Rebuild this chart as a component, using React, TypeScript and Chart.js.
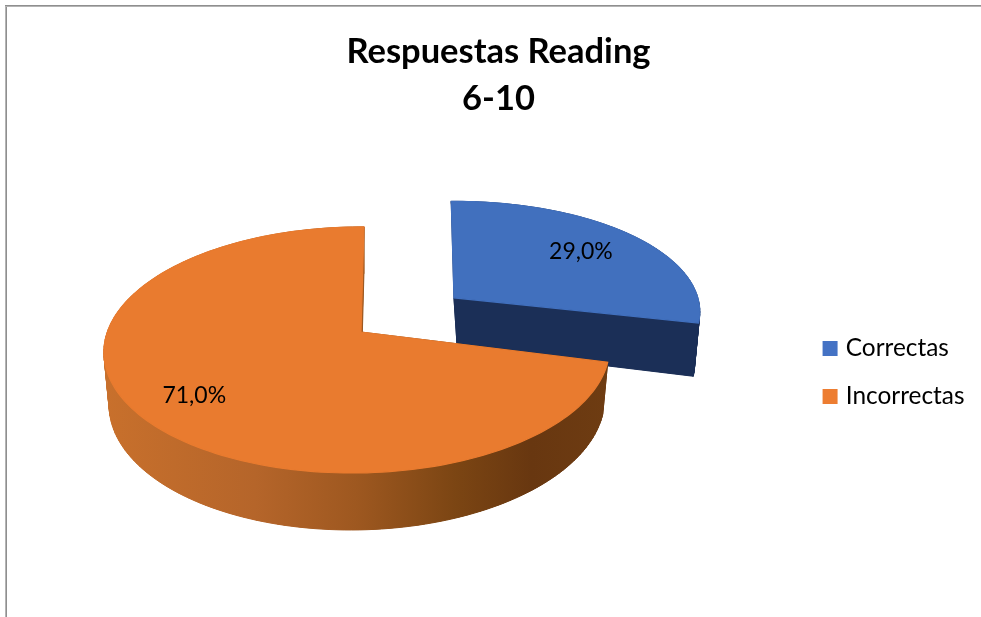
import React, { useEffect, useRef } from "react";
import { Chart, registerables } from "chart.js";

Chart.register(...registerables);

const categories = ["Correctas", "Incorrectas"];
const values = [29.0, 71.0];
const topColors = ["#4170BE", "#E97B2F"];
const legendColors = ["#4472C4", "#ED7D31"];
const explosion = [0.483, 0];
const titleLines = ["Respuestas Reading", "6-10"];

// perspective projection of the pie's plane onto the page
const VIEW = { ox: 361, oy: 332, a: 250, b: -3.4, c: -0.4, d: 120.4, k: -0.146, m: 0.015, depth: 52.6, g: 0.02 };

function project(x: number, y: number, bottom: boolean) {
  const v = VIEW;
  const w = 1 + v.k * y + v.m * x + (bottom ? v.g : 0);
  return {
    x: v.ox + (v.a * x + v.b * y) / w,
    y: v.oy + (v.c * x + v.d * y + (bottom ? v.depth : 0)) / w,
  };
}

// the exploded slice sits a little differently in the reference's perspective
function projectSlice(i: number, x: number, y: number, bottom: boolean) {
  const p = project(x, y, bottom);
  if (i !== 0) return p;
  const base = project(x, y, false);
  const dx = base.x - 452;
  const dy = 298 - base.y;
  return {
    x: p.x + 1 + 0.04 * dx + 0.062 * dy + (bottom ? 5 - (4 * dx) / 239 : 0),
    y: p.y + (bottom ? 0 : -0.012 * dx),
  };
}

function sectorPoints(i: number, start: number, end: number, ex: number, ey: number, bottom: boolean) {
  const pts = [projectSlice(i, ex, ey, bottom)];
  const n = Math.max(8, Math.round(((end - start) / (Math.PI * 2)) * 240));
  for (let s = 0; s <= n; s++) {
    const t = start + ((end - start) * s) / n;
    pts.push(projectSlice(i, ex + Math.cos(t), ey + Math.sin(t), bottom));
  }
  return pts;
}

function tracePoly(ctx: CanvasRenderingContext2D, pts: { x: number; y: number }[]) {
  ctx.beginPath();
  pts.forEach((p, i) => (i ? ctx.lineTo(p.x, p.y) : ctx.moveTo(p.x, p.y)));
  ctx.closePath();
}

const pie3d = {
  id: "pie3d",
  beforeDraw(chart: any) {
    const ctx = chart.ctx;
    ctx.save();
    ctx.fillStyle = "#ffffff";
    ctx.fillRect(0, 0, chart.width, chart.height);
    ctx.fillStyle = "#8F8F8F";
    ctx.fillRect(5, 5, chart.width - 5, 1);
    ctx.fillRect(6, 5, 1, chart.height - 5);
    ctx.fillStyle = "#B4B4B4";
    ctx.fillRect(6, 6, chart.width - 6, 1);
    ctx.fillRect(5, 6, 1, chart.height - 6);
    ctx.restore();
  },
  beforeDatasetsDraw(chart: any) {
    const ctx = chart.ctx;
    const arcs = chart.getDatasetMeta(0).data;
    const orangeSide = ctx.createLinearGradient(105, 0, 607, 0);
    orangeSide.addColorStop(0, "#C8702C");
    orangeSide.addColorStop(0.3, "#B5652A");
    orangeSide.addColorStop(0.5, "#9E5820");
    orangeSide.addColorStop(0.7, "#7B4513");
    orangeSide.addColorStop(0.85, "#683710");
    orangeSide.addColorStop(1, "#6E3C12");
    const sideFills = ["#1B2F57", orangeSide];
    ctx.save();
    arcs.forEach((arc: any, i: number) => {
      const mid = (arc.startAngle + arc.endAngle) / 2;
      const ex = explosion[i] * Math.cos(mid);
      const ey = explosion[i] * Math.sin(mid);
      const top = sectorPoints(i, arc.startAngle, arc.endAngle, ex, ey, false);
      const bottom = sectorPoints(i, arc.startAngle, arc.endAngle, ex, ey, true);
      ctx.fillStyle = sideFills[i];
      ctx.strokeStyle = sideFills[i];
      ctx.lineWidth = 1;
      tracePoly(ctx, bottom);
      ctx.fill();
      for (let j = 0; j < top.length; j++) {
        const k = (j + 1) % top.length;
        tracePoly(ctx, [top[j], top[k], bottom[k], bottom[j]]);
        ctx.fill();
        ctx.stroke();
      }
      ctx.fillStyle = topColors[i];
      ctx.strokeStyle = topColors[i];
      ctx.lineWidth = 1.2;
      tracePoly(ctx, top);
      ctx.fill();
      ctx.stroke();
    });
    ctx.fillStyle = "#000000";
    ctx.font = "23px Lato";
    ctx.textAlign = "center";
    ctx.textBaseline = "middle";
    arcs.forEach((arc: any, i: number) => {
      const mid = (arc.startAngle + arc.endAngle) / 2;
      const r = explosion[i] + 0.77;
      const p = project(r * Math.cos(mid), r * Math.sin(mid), false);
      ctx.fillText(values[i].toFixed(1).replace(".", ",") + "%", p.x - (i === 0 ? 2 : 0), p.y + 2);
    });
    ctx.restore();
    return false;
  },
};

export default function App() {
  const ref = useRef<HTMLCanvasElement>(null);
  useEffect(() => {
    const chart = new Chart(ref.current as HTMLCanvasElement, {
      type: "pie",
      data: {
        labels: categories,
        datasets: [{ data: values, backgroundColor: topColors, borderWidth: 0 }],
      },
      options: {
        responsive: false,
        animation: false,
        layout: { padding: { left: 22.5, right: 6.5, top: 0, bottom: 0 } },
        plugins: {
          tooltip: { enabled: false },
          title: {
            display: true,
            text: titleLines,
            color: "#000000",
            font: { family: "Lato", size: 34.5, weight: "bold", lineHeight: 47 / 34.5 },
            padding: { top: 28, bottom: 6 },
          },
          legend: {
            display: true,
            position: "right",
            fullSize: false,
            labels: {
              boxWidth: 7,
              boxHeight: 7,
              padding: 23.6,
              color: "#1A1A1A",
              font: { family: "Lato", size: 24.4 },
              generateLabels: () =>
                categories.map((text, index) => ({
                  text,
                  index,
                  fillStyle: legendColors[index],
                  strokeStyle: legendColors[index],
                  lineWidth: 8,
                  hidden: false,
                })),
            },
          },
        },
      },
      plugins: [pie3d],
    } as any);
    return () => chart.destroy();
  }, []);
  return (
    <div style={{ position: "absolute", left: 0, top: 0, width: 981, height: 617 }}>
      <canvas ref={ref} width={981} height={617} style={{ display: "block" }} />
    </div>
  );
}
